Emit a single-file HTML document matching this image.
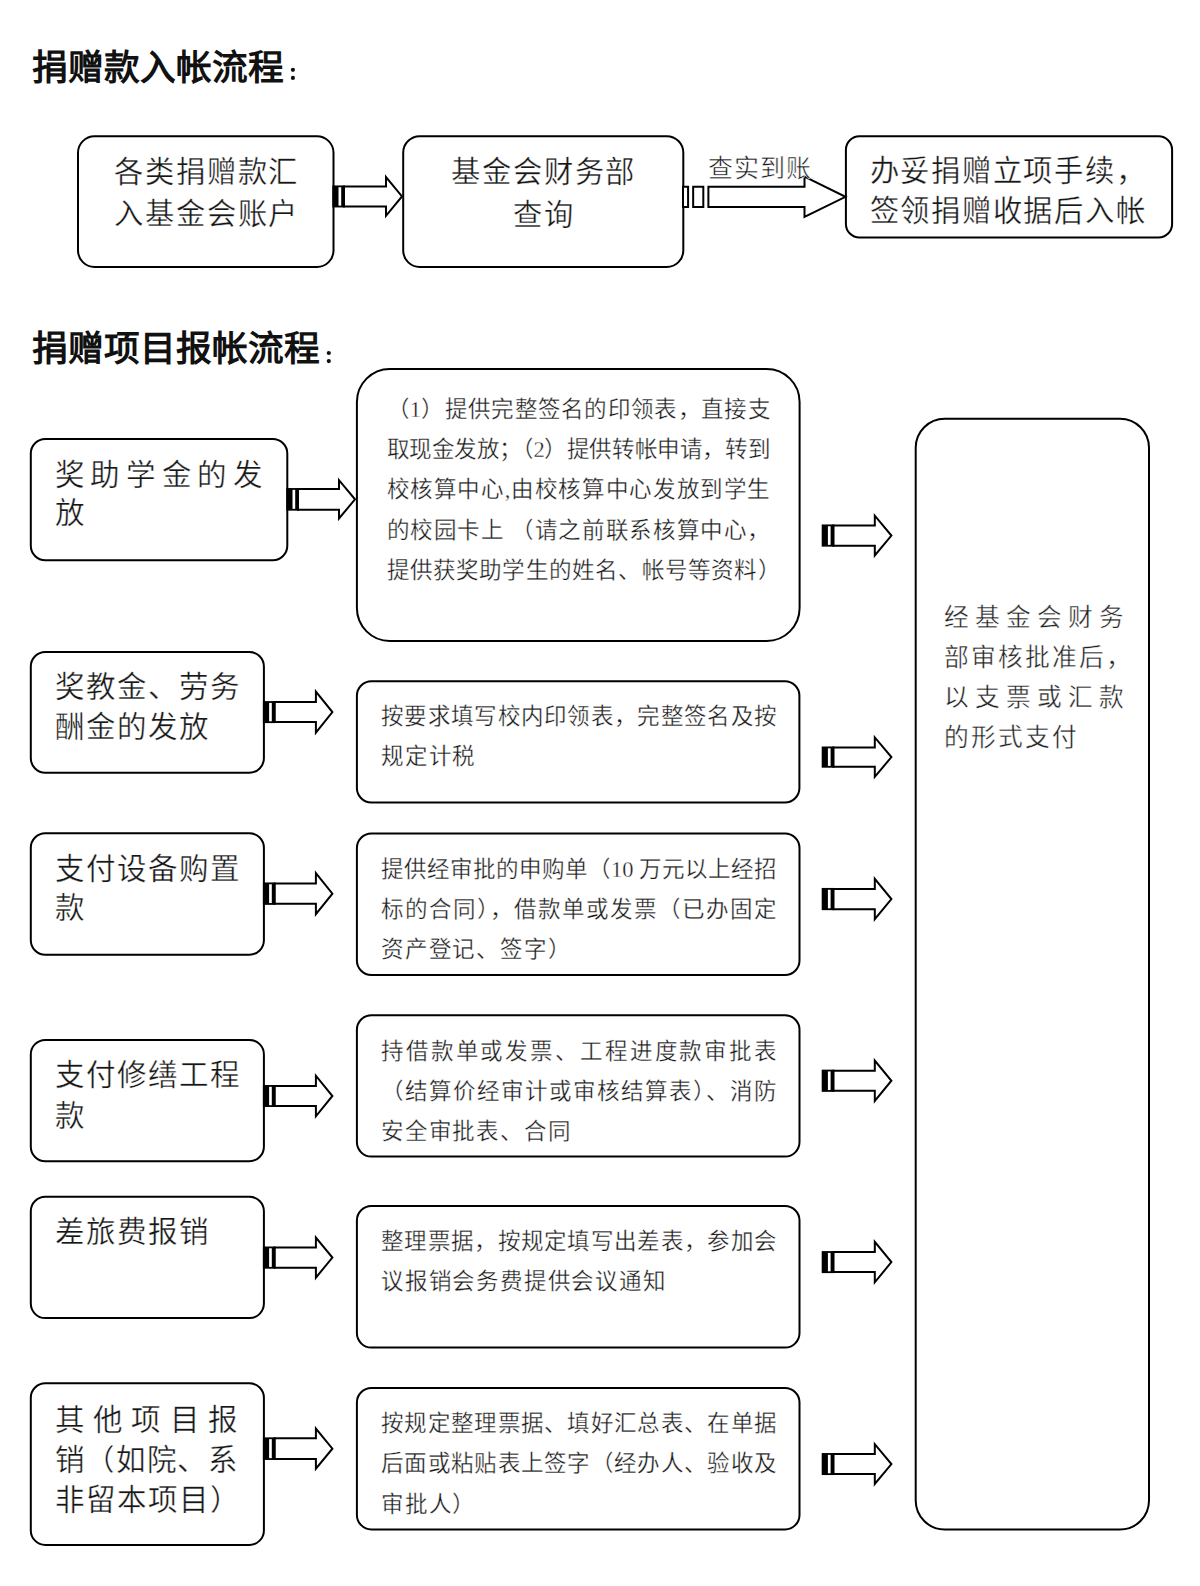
<!DOCTYPE html>
<html lang="zh-CN"><head><meta charset="utf-8"><title>捐赠流程</title><style>
html,body{margin:0;padding:0;background:#fff;}
body{width:1200px;height:1586px;position:relative;overflow:hidden;}
svg{position:absolute;left:0;top:0;}
.t{position:absolute;white-space:nowrap;line-height:1;color:#262626;}
.j{text-align:justify;text-align-last:justify;text-justify:inter-character;}
.title{font-family:'Liberation Sans',sans-serif;font-size:35.7px;font-weight:700;letter-spacing:0px;color:#111;}
.top{font-family:'Liberation Sans',sans-serif;font-size:29.3px;font-weight:400;letter-spacing:1.8px;color:#161616;-webkit-text-stroke:0.35px #fff;}
.left{font-family:'Liberation Sans',sans-serif;font-size:29.5px;font-weight:400;letter-spacing:1.0px;color:#161616;-webkit-text-stroke:0.35px #fff;}
.mid{font-family:'Liberation Serif',serif;font-size:22.5px;font-weight:400;letter-spacing:0.8px;color:#1a1a1a;-webkit-text-stroke:0.32px #fff;}
.right{font-family:'Liberation Sans',sans-serif;font-size:24.7px;font-weight:400;letter-spacing:2.0px;color:#222;-webkit-text-stroke:0.4px #fff;}
.lbl{font-family:'Liberation Serif',serif;font-size:25.0px;font-weight:400;letter-spacing:1.25px;color:#161616;-webkit-text-stroke:0.5px #fff;}
</style></head><body>
<svg width="1200" height="1586" viewBox="0 0 1200 1586">
<g fill="#fff" stroke="#000" stroke-width="2">
<rect x="78.0" y="136.3" width="255.5" height="130.7" rx="16.5" ry="16.5"/>
<rect x="403.2" y="136.2" width="280.1" height="130.8" rx="16.5" ry="16.5"/>
<rect x="845.9" y="136.3" width="326.2" height="101.1" rx="13.5" ry="13.5"/>
<rect x="30.8" y="439.0" width="256.5" height="121.3" rx="14.5" ry="14.5"/>
<rect x="30.8" y="652.0" width="233.1" height="120.7" rx="14.5" ry="14.5"/>
<rect x="30.8" y="833.3" width="233.1" height="121.4" rx="14.5" ry="14.5"/>
<rect x="30.8" y="1039.9" width="233.1" height="121.3" rx="14.5" ry="14.5"/>
<rect x="30.8" y="1196.8" width="233.1" height="121.3" rx="14.5" ry="14.5"/>
<rect x="30.8" y="1383.3" width="233.1" height="161.6" rx="14.5" ry="14.5"/>
<rect x="356.9" y="369.0" width="442.7" height="272.0" rx="33" ry="33"/>
<rect x="356.9" y="681.3" width="442.5" height="121.2" rx="14.5" ry="14.5"/>
<rect x="356.9" y="833.5" width="442.6" height="141.5" rx="14.5" ry="14.5"/>
<rect x="356.9" y="1015.3" width="442.6" height="141.3" rx="14.5" ry="14.5"/>
<rect x="356.9" y="1206.0" width="442.6" height="141.6" rx="14.5" ry="14.5"/>
<rect x="356.9" y="1388.0" width="442.6" height="141.4" rx="14.5" ry="14.5"/>
<rect x="915.7" y="418.7" width="233.3" height="1110.8" rx="29" ry="29"/>
<path d="M343.90 186.45H386.00V177.10L402.00 196.45L386.00 215.80V206.45H343.90Z"/><path d="M332.30 185.45H344.90V207.45H332.30Z" fill="#000" stroke="none"/><path d="M338.50 187.25H341.20V205.65H338.50Z" fill="#fff" stroke="none"/>
<path d="M683.00 186.70H688.08V206.90H683.00ZM693.16 186.70H703.31V206.90H693.16ZM708.39 186.70H804.50V176.60L845.50 196.80L804.50 217.00V206.90H708.39Z"/>
<path d="M297.90 489.05H339.00V480.20L355.00 499.35L339.00 518.50V509.65H297.90Z"/><path d="M286.30 488.05H298.90V510.65H286.30Z" fill="#000" stroke="none"/><path d="M292.50 489.85H295.20V508.85H292.50Z" fill="#fff" stroke="none"/>
<path d="M274.50 702.10H315.90V691.60L332.40 712.10L315.90 732.60V722.10H274.50Z"/><path d="M262.90 701.10H275.50V723.10H262.90Z" fill="#000" stroke="none"/><path d="M269.10 702.90H271.80V721.30H269.10Z" fill="#fff" stroke="none"/>
<path d="M274.50 883.45H315.90V873.10L332.40 893.65L315.90 914.20V903.85H274.50Z"/><path d="M262.90 882.45H275.50V904.85H262.90Z" fill="#000" stroke="none"/><path d="M269.10 884.25H271.80V903.05H269.10Z" fill="#fff" stroke="none"/>
<path d="M274.50 1086.00H315.90V1075.70L332.40 1096.00L315.90 1116.30V1106.00H274.50Z"/><path d="M262.90 1085.00H275.50V1107.00H262.90Z" fill="#000" stroke="none"/><path d="M269.10 1086.80H271.80V1105.20H269.10Z" fill="#fff" stroke="none"/>
<path d="M274.50 1247.50H315.90V1237.60L332.40 1257.60L315.90 1277.60V1267.70H274.50Z"/><path d="M262.90 1246.50H275.50V1268.70H262.90Z" fill="#000" stroke="none"/><path d="M269.10 1248.30H271.80V1266.90H269.10Z" fill="#fff" stroke="none"/>
<path d="M274.50 1438.35H315.90V1428.60L332.40 1448.65L315.90 1468.70V1458.95H274.50Z"/><path d="M262.90 1437.35H275.50V1459.95H262.90Z" fill="#000" stroke="none"/><path d="M269.10 1439.15H271.80V1458.15H269.10Z" fill="#fff" stroke="none"/>
<path d="M833.30 525.45H874.80V515.70L891.40 535.55L874.80 555.40V545.65H833.30Z"/><path d="M821.70 524.45H834.30V546.65H821.70Z" fill="#000" stroke="none"/><path d="M827.90 526.25H830.60V544.85H827.90Z" fill="#fff" stroke="none"/>
<path d="M833.30 747.50H874.80V737.40L891.40 757.10L874.80 776.80V766.70H833.30Z"/><path d="M821.70 746.50H834.30V767.70H821.70Z" fill="#000" stroke="none"/><path d="M827.90 748.30H830.60V765.90H827.90Z" fill="#fff" stroke="none"/>
<path d="M833.30 888.95H874.80V878.90L891.40 899.05L874.80 919.20V909.15H833.30Z"/><path d="M821.70 887.95H834.30V910.15H821.70Z" fill="#000" stroke="none"/><path d="M827.90 889.75H830.60V908.35H827.90Z" fill="#fff" stroke="none"/>
<path d="M833.30 1070.65H874.80V1060.60L891.40 1080.75L874.80 1100.90V1090.85H833.30Z"/><path d="M821.70 1069.65H834.30V1091.85H821.70Z" fill="#000" stroke="none"/><path d="M827.90 1071.45H830.60V1090.05H827.90Z" fill="#fff" stroke="none"/>
<path d="M833.30 1252.10H874.80V1241.90L891.40 1262.10L874.80 1282.30V1272.10H833.30Z"/><path d="M821.70 1251.10H834.30V1273.10H821.70Z" fill="#000" stroke="none"/><path d="M827.90 1252.90H830.60V1271.30H827.90Z" fill="#fff" stroke="none"/>
<path d="M833.30 1454.05H874.80V1444.20L891.40 1464.05L874.80 1483.90V1474.05H833.30Z"/><path d="M821.70 1453.05H834.30V1475.05H821.70Z" fill="#000" stroke="none"/><path d="M827.90 1454.85H830.60V1473.25H827.90Z" fill="#fff" stroke="none"/>
</g>
<g fill="#111"><circle cx="292.9" cy="69.8" r="2.1"/><circle cx="292.9" cy="77.9" r="2.1"/><circle cx="328.8" cy="353.0" r="2.1"/><circle cx="328.8" cy="361.1" r="2.1"/></g>
</svg>
<div class="t title" style="top:50.7px;left:31.5px;">捐赠款入帐流程</div>
<div class="t title" style="top:332.0px;left:31.5px;">捐赠项目报帐流程</div>
<div class="t top" style="top:157.1px;left:-94.0px;width:600px;text-align:center;text-indent:1.8px;">各类捐赠款汇</div>
<div class="t top" style="top:198.6px;left:-94.0px;width:600px;text-align:center;text-indent:1.8px;">入基金会账户</div>
<div class="t top" style="top:157.1px;left:243.0px;width:600px;text-align:center;text-indent:1.8px;">基金会财务部</div>
<div class="t top" style="top:199.6px;left:243.0px;width:600px;text-align:center;text-indent:1.8px;">查询</div>
<div class="t top" style="top:155.7px;left:869.5px;">办妥捐赠立项手续，</div>
<div class="t top" style="top:196.1px;left:869.5px;">签领捐赠收据后入帐</div>
<div class="t lbl" style="top:156.2px;left:707.5px;">查实到账</div>
<div class="t left" style="top:459.7px;left:54.8px;letter-spacing:5.600px;">奖助学金的发</div>
<div class="t left" style="top:498.4px;left:54.8px;">放</div>
<div class="t left" style="top:671.7px;left:54.8px;">奖教金、劳务</div>
<div class="t left" style="top:711.7px;left:54.8px;">酬金的发放</div>
<div class="t left" style="top:853.6px;left:54.8px;">支付设备购置</div>
<div class="t left" style="top:893.2px;left:54.8px;">款</div>
<div class="t left" style="top:1060.0px;left:54.8px;">支付修缮工程</div>
<div class="t left" style="top:1100.6px;left:54.8px;">款</div>
<div class="t left" style="top:1217.4px;left:54.8px;">差旅费报销</div>
<div class="t left" style="top:1404.6px;left:54.8px;letter-spacing:8.250px;">其他项目报</div>
<div class="t left" style="top:1445.1px;left:54.8px;letter-spacing:0.600px;">销（如院、系</div>
<div class="t left" style="top:1484.6px;left:54.8px;">非留本项目）</div>
<div class="t mid" style="top:398.6px;left:386.5px;letter-spacing:0.297px;">（1）提供完整签名的印领表，直接支</div>
<div class="t mid" style="top:439.0px;left:386.5px;letter-spacing:-0.426px;">取现金发放；（2）提供转帐申请，转到</div>
<div class="t mid" style="top:479.4px;left:386.5px;letter-spacing:0.648px;">校核算中心,由校核算中心发放到学生</div>
<div class="t mid" style="top:519.8px;left:386.5px;letter-spacing:0.648px;">的校园卡上 （请之前联系核算中心，</div>
<div class="t mid" style="top:560.2px;left:386.5px;letter-spacing:0.188px;">提供获奖助学生的姓名、帐号等资料）</div>
<div class="t mid" style="top:705.9px;left:381.0px;letter-spacing:0.312px;">按要求填写校内印领表，完整签名及按</div>
<div class="t mid" style="top:746.4px;left:381.0px;">规定计税</div>
<div class="t mid" style="top:858.7px;left:381.0px;letter-spacing:-0.007px;">提供经审批的申购单（10 万元以上经招</div>
<div class="t mid" style="top:899.4px;left:381.0px;letter-spacing:1.000px;">标的合同），借款单或发票（已办固定</div>
<div class="t mid" style="top:939.3px;left:381.0px;">资产登记、签字）</div>
<div class="t mid" style="top:1040.7px;left:381.0px;letter-spacing:1.867px;">持借款单或发票、工程进度款审批表</div>
<div class="t mid" style="top:1080.9px;left:381.0px;letter-spacing:1.000px;">（结算价经审计或审核结算表）、消防</div>
<div class="t mid" style="top:1121.2px;left:381.0px;">安全审批表、合同</div>
<div class="t mid" style="top:1230.9px;left:381.0px;letter-spacing:0.312px;">整理票据，按规定填写出差表，参加会</div>
<div class="t mid" style="top:1271.3px;left:381.0px;">议报销会务费提供会议通知</div>
<div class="t mid" style="top:1412.9px;left:381.0px;letter-spacing:0.312px;">按规定整理票据、填好汇总表、在单据</div>
<div class="t mid" style="top:1453.3px;left:381.0px;letter-spacing:0.312px;">后面或粘贴表上签字（经办人、验收及</div>
<div class="t mid" style="top:1493.8px;left:381.0px;">审批人）</div>
<div class="t right" style="top:606.3px;left:944.0px;letter-spacing:6.000px;">经基金会财务</div>
<div class="t right" style="top:645.6px;left:944.0px;">部审核批准后，</div>
<div class="t right" style="top:685.8px;left:944.0px;letter-spacing:6.000px;">以支票或汇款</div>
<div class="t right" style="top:726.0px;left:944.0px;">的形式支付</div>
</body></html>
